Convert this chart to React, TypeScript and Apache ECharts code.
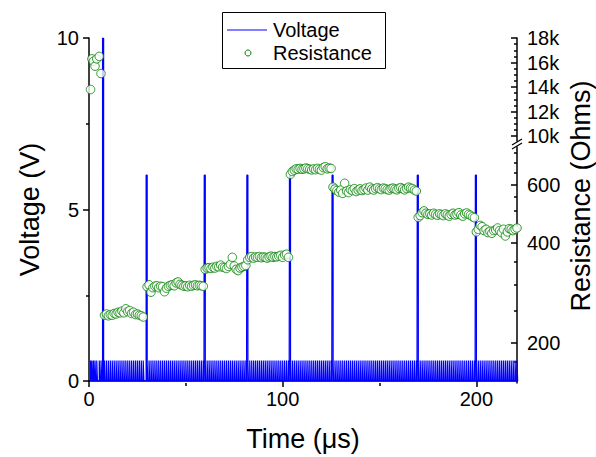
import React, { useEffect, useRef } from "react";
import * as echarts from "echarts";

// ---- axis ticks ----
const timeTicks = [0, 100, 200];
const timeMinorTicks = [50, 150];
const lowResTicks = [200, 400, 600];
const lowResMinorTicks = [175, 250, 300, 350, 450, 500, 550, 650, 700, 750];
const highResTicks = [10000, 12000, 14000, 16000, 18000];
const highResMinorTicks = [10500, 11000, 11500, 12500, 13000, 13500, 14500, 15000, 15500, 16500, 17000, 17500];

// ---- voltage pulses ----
const writePulseTime = [7, 29.5, 59.5, 81.5, 103.5, 125.5, 169.5, 199.5];
const writePulseVoltage = [10, 6, 6, 6, 6, 6, 6, 6];
const readPulseVoltage = 0.6;

// ---- resistance readings (one per read pulse) ----
const resistanceTime = [
  0.8, 1.5, 2.3, 3.1, 4.0, 5.3, 6.2,
  8, 9, 10, 11, 12, 13, 14, 15, 16, 17, 18, 19, 20, 21, 22, 23, 24, 25, 26, 27, 28,
  30, 31, 32, 33, 34, 35, 36, 37, 38, 39, 40, 41, 42, 43, 44, 45, 46, 47, 48, 49, 50, 51, 52, 53, 54, 55, 56, 57, 58, 59,
  60, 61, 62, 63, 64, 65, 66, 67, 68, 69, 70, 71, 72, 73, 74, 75, 76, 77, 78, 79, 80, 81,
  82, 83, 84, 85, 86, 87, 88, 89, 90, 91, 92, 93, 94, 95, 96, 97, 98, 99, 100, 101, 102, 103,
  104, 105, 106, 107, 108, 109, 110, 111, 112, 113, 114, 115, 116, 117, 118, 119, 120, 121, 122, 123, 124, 125,
  126, 127, 128, 129, 130, 131, 132, 133, 134, 135, 136, 137, 138, 139, 140, 141, 142, 143, 144, 145, 146, 147,
  148, 149, 150, 151, 152, 153, 154, 155, 156, 157, 158, 159, 160, 161, 162, 163, 164, 165, 166, 167, 168, 169,
  170, 171, 172, 173, 174, 175, 176, 177, 178, 179, 180, 181, 182, 183, 184, 185, 186, 187, 188, 189, 190, 191,
  192, 193, 194, 195, 196, 197, 198, 199,
  200, 201, 202, 203, 204, 205, 206, 207, 208, 209, 210, 211, 212, 213, 214, 215, 216, 217, 218, 219, 220, 221,
];
const resistanceOhms = [
  13800, 16300, 16100, 15700, 16300, 16500, 15100,
  242, 244, 241, 243, 242, 245, 244, 247, 246, 249, 246, 253, 248, 250, 245, 247, 243, 244, 242, 241, 239,
  295, 299, 284, 293, 296, 297, 293, 296, 295, 285, 292, 296, 298, 299, 297, 303, 305, 300, 298, 296, 297, 295, 298, 296, 298, 299, 297, 298, 297, 296,
  333, 336, 337, 335, 338, 336, 340, 339, 343, 338, 337, 335, 340, 345, 362, 341, 333, 330, 336, 338, 340, 342,
  356, 362, 364, 360, 363, 362, 364, 361, 363, 362, 360, 363, 365, 362, 364, 363, 365, 367, 362, 368, 370, 362,
  645, 658, 664, 670, 668, 672, 668, 670, 674, 671, 668, 665, 670, 666, 672, 668, 664, 676, 680, 670, 674, 672,
  590, 582, 576, 570, 578, 565, 606, 574, 568, 580, 576, 584, 572, 578, 583, 576, 580, 586, 578, 590, 582, 578,
  584, 588, 583, 580, 586, 584, 580, 578, 584, 586, 582, 579, 585, 588, 583, 579, 585, 590, 586, 584, 578, 574,
  478, 484, 494, 500, 492, 488, 490, 486, 492, 488, 485, 490, 487, 484, 490, 486, 482, 488, 492, 486, 489, 494,
  486, 482, 490, 493, 488, 485, 480, 477,
  432, 440, 452, 448, 436, 440, 430, 434, 428, 436, 438, 444, 436, 430, 440, 420, 432, 442, 440, 436, 440, 444,
];

const X_MAX = 221;
const LOW_MIN = 151;
const LOW_MAX = 780;
const HIGH_MIN = 9600;
const HIGH_MAX = 18000;

export default function App() {
  const ref = useRef<HTMLDivElement>(null);
  useEffect(() => {
    document.body.style.margin = "0";
    const chart = echarts.init(ref.current!, null, { renderer: "svg" });
    const FONT = "'Liberation Sans', Arial, sans-serif";
    const BLACK = "#000";
    const BLUE = "#0000ff";
    const GREEN = "#008000";
    const L = 89;
    const R = 79;
    const readPulseWidth = 0.36;
    const writePulseWidth = 0.55;

    const pulses = [
      ...resistanceTime.map((t) => [t, readPulseVoltage, readPulseWidth]),
      ...writePulseTime.map((t, i) => [t, writePulseVoltage[i], writePulseWidth]),
    ].sort((a, b) => a[0] - b[0]);
    const voltageData: number[][] = [[0, 0]];
    pulses.forEach(([t, v, w]) => {
      voltageData.push([t, 0], [t, v], [t + w, v], [t + w, 0]);
    });
    voltageData.push([X_MAX, 0]);

    const lowData: number[][] = [];
    const highData: number[][] = [];
    resistanceTime.forEach((t, i) => {
      const r = resistanceOhms[i];
      if (r >= 5000) highData.push([t, r]);
      else lowData.push([t, Math.log10(r)]);
    });

    const line = { lineStyle: { color: BLACK, width: 1.5 } };
    const axisLine = { show: true, onZero: false, lineStyle: { color: BLACK, width: 1.5 } };
    const noLine = { show: false, onZero: false };
    const label = { color: BLACK, fontSize: 20, fontFamily: FONT };
    const nameStyle = { color: BLACK, fontSize: 27, fontFamily: FONT };

    chart.setOption({
      animation: false,
      grid: [
        { left: L, right: R, top: 38, height: 345 },
        { left: L, right: R, top: 147, height: 236 },
        { left: L, right: R, top: 38, height: 103 },
      ],
      xAxis: [
        {
          gridIndex: 0, type: "value", min: 0, max: X_MAX,
          axisLine,
          axisTick: { show: true, customValues: timeTicks, length: 6, ...line },
          axisLabel: { ...label, customValues: timeTicks, margin: 8 },
          splitLine: { show: false },
          name: "Time (μs)", nameLocation: "middle", nameGap: 44, nameTextStyle: nameStyle,
        },
        {
          gridIndex: 1, type: "value", min: 0, max: X_MAX,
          axisLine: noLine,
          axisTick: { show: true, customValues: timeMinorTicks, length: 3, ...line },
          axisLabel: { show: false },
          splitLine: { show: false },
        },
        { gridIndex: 2, type: "value", min: 0, max: X_MAX, show: false, axisLine: noLine, splitLine: { show: false } },
      ],
      yAxis: [
        {
          gridIndex: 0, type: "value", position: "left", min: 0, max: 10, interval: 5,
          axisLine,
          axisTick: { show: true, length: 6, ...line },
          minorTick: { show: true, splitNumber: 2, length: 3, ...line },
          axisLabel: { ...label, margin: 10 },
          splitLine: { show: false },
          name: "Voltage (V)", nameLocation: "middle", nameGap: 46, nameTextStyle: nameStyle,
        },
        {
          gridIndex: 1, type: "value", position: "right",
          min: Math.log10(LOW_MIN), max: Math.log10(LOW_MAX),
          axisLine,
          axisTick: { show: true, inside: true, length: 6, customValues: lowResTicks.map(Math.log10), ...line },
          axisLabel: {
            ...label, margin: 10, customValues: lowResTicks.map(Math.log10),
            formatter: (v: number) => String(Math.round(Math.pow(10, v))),
          },
          splitLine: { show: false },
        },
        {
          gridIndex: 1, type: "value", position: "right",
          min: Math.log10(LOW_MIN), max: Math.log10(LOW_MAX),
          axisLine: noLine,
          axisTick: { show: true, inside: true, length: 3, customValues: lowResMinorTicks.map(Math.log10), ...line },
          axisLabel: { show: false },
          splitLine: { show: false },
        },
        {
          gridIndex: 2, type: "value", position: "right", min: HIGH_MIN, max: HIGH_MAX,
          axisLine,
          axisTick: { show: true, inside: true, length: 6, customValues: highResTicks, ...line },
          axisLabel: {
            ...label, margin: 10, customValues: highResTicks,
            formatter: (v: number) => `${Math.round(v / 1000)}k`,
          },
          splitLine: { show: false },
        },
        {
          gridIndex: 2, type: "value", position: "right", min: HIGH_MIN, max: HIGH_MAX,
          axisLine: noLine,
          axisTick: { show: true, inside: true, length: 3, customValues: highResMinorTicks, ...line },
          axisLabel: { show: false },
          splitLine: { show: false },
        },
      ],
      series: [
        {
          name: "Voltage", type: "line", xAxisIndex: 0, yAxisIndex: 0,
          data: voltageData, showSymbol: false, symbol: "none",
          lineStyle: { color: BLUE, width: 1.2 }, z: 2, clip: true,
        },
        {
          name: "Resistance", type: "scatter", xAxisIndex: 1, yAxisIndex: 1,
          data: lowData, symbol: "circle", symbolSize: 8.5,
          itemStyle: { color: "#fff", borderColor: GREEN, borderWidth: 1 }, z: 3,
        },
        {
          name: "Resistance", type: "scatter", xAxisIndex: 2, yAxisIndex: 3,
          data: highData, symbol: "circle", symbolSize: 8.5,
          itemStyle: { color: "#fff", borderColor: GREEN, borderWidth: 1 }, z: 3,
        },
      ],
      graphic: [
        {
          type: "rect", shape: { x: 222.5, y: 12.5, width: 163, height: 56 },
          style: { fill: "#fff", stroke: BLACK, lineWidth: 1 }, z: 10,
        },
        { type: "line", shape: { x1: 227, y1: 30, x2: 267, y2: 30 }, style: { stroke: BLUE, lineWidth: 1 }, z: 11 },
        { type: "circle", shape: { cx: 248, cy: 53, r: 3 }, style: { fill: "#fff", stroke: GREEN, lineWidth: 1 }, z: 11 },
        {
          type: "text", x: 273, y: 30, z: 11,
          style: { text: "Voltage", fill: BLACK, fontSize: 20, fontFamily: FONT, align: "left", verticalAlign: "middle" },
        },
        {
          type: "text", x: 273, y: 53, z: 11,
          style: { text: "Resistance", fill: BLACK, fontSize: 20, fontFamily: FONT, align: "left", verticalAlign: "middle" },
        },
        {
          type: "text", x: 581, y: 196, rotation: Math.PI / 2, z: 11,
          style: { text: "Resistance (Ohms)", fill: BLACK, fontSize: 27, fontFamily: FONT, align: "center", verticalAlign: "middle" },
        },
        { type: "line", shape: { x1: 512, y1: 149, x2: 522, y2: 143 }, style: { stroke: BLACK, lineWidth: 1.2 }, z: 11 },
        { type: "line", shape: { x1: 512, y1: 145, x2: 522, y2: 139 }, style: { stroke: BLACK, lineWidth: 1.2 }, z: 11 },
      ],
    });
    return () => chart.dispose();
  }, []);
  return <div ref={ref} style={{ width: 596, height: 457 }} />;
}
